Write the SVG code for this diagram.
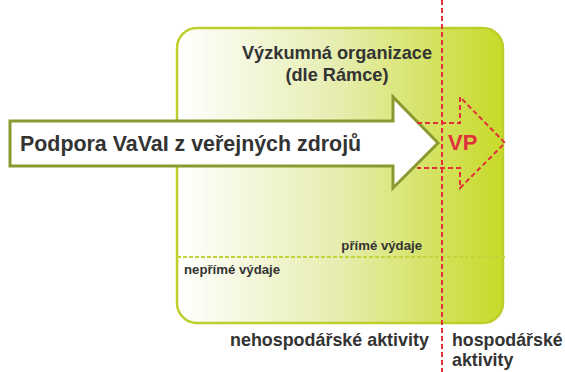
<svg xmlns="http://www.w3.org/2000/svg" width="565" height="372" viewBox="0 0 565 372">
<defs>
<linearGradient id="g" x1="0" y1="0" x2="1" y2="0">
<stop offset="0" stop-color="#ffffff"/>
<stop offset="0.5" stop-color="#e6edae"/>
<stop offset="1" stop-color="#c8da28"/>
</linearGradient>
<style>
text{font-family:"Liberation Sans",Arial,sans-serif;font-weight:bold;fill:#333333}
.red{stroke:#e0303c;stroke-width:2;fill:none;stroke-dasharray:5 3}
</style>
</defs>
<g id="org">
<rect x="177" y="28" width="326" height="295" rx="20" ry="20" fill="url(#g)" stroke="#bccf2c" stroke-width="2.5"/>
<text x="337" y="59" font-size="18.2" text-anchor="middle">Výzkumná organizace</text>
<text x="337" y="81" font-size="18.2" text-anchor="middle">(dle Rámce)</text>
</g>
<g id="divider">
<line x1="177" y1="257" x2="506" y2="257" stroke="#c4d23c" stroke-width="2" stroke-dasharray="4 2"/>
<text x="422" y="250" font-size="13.2" text-anchor="end">přímé výdaje</text>
<text x="184" y="274" font-size="13.2">nepřímé výdaje</text>
</g>
<g id="support">
<path d="M10,121 H393 V97 L438,143 L393,188 V166 H10 Z" fill="#ffffff" stroke="#8a9a30" stroke-width="3" stroke-linejoin="miter"/>
<text x="20" y="151" font-size="21.4">Podpora VaVaI z veřejných zdrojů</text>
</g>
<g id="vp">
<path class="red" d="M417,123 H460 V97 L505,143 L460,188 V168 H417"/>
<text x="448" y="150" font-size="22" style="fill:#e0303c">VP</text>
</g>
<g id="connectors">
<line class="red" x1="442" y1="0" x2="442" y2="372"/>
</g>
<g id="labels">
<text x="230" y="346" font-size="17.9">nehospodářské aktivity</text>
<text x="452" y="346" font-size="17.8">hospodářské</text>
<text x="452" y="366" font-size="17.8">aktivity</text>
</g>
</svg>
